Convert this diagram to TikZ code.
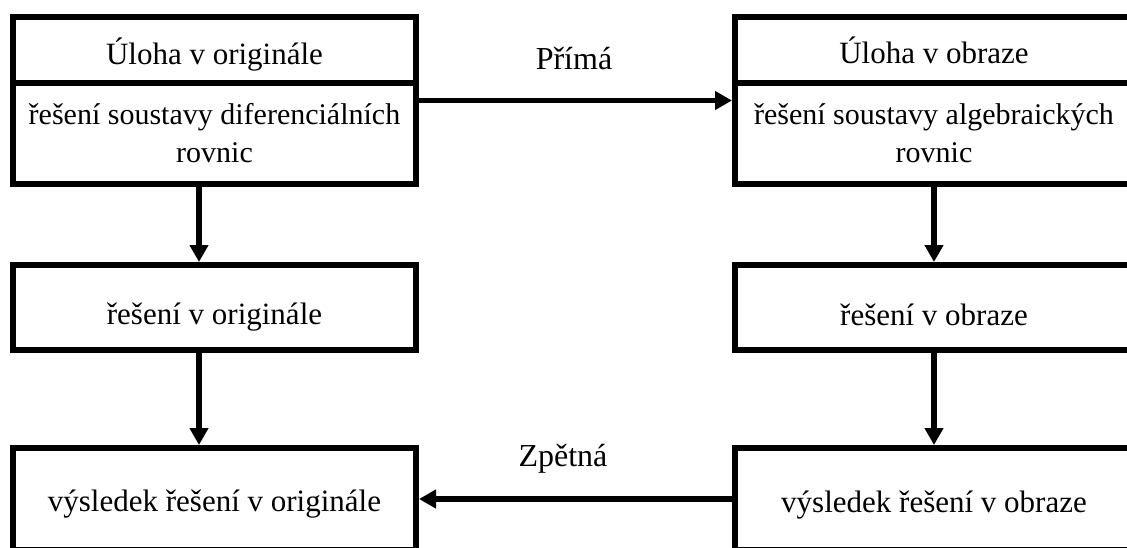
\documentclass[tikz,border=0pt]{standalone}
\usepackage{fontspec}
\setmainfont{Liberation Serif}
\usetikzlibrary{arrows.meta}
\begin{document}
\begin{tikzpicture}[x=1pt,y=-1pt,
  box/.style={draw, line width=6pt, inner sep=0pt, outer sep=3pt},
  txt/.style={font=\fontsize{31}{38}\selectfont, align=center, inner sep=0pt},
  small/.style={font=\fontsize{30}{38}\selectfont},
  lbl/.style={font=\fontsize{32}{38}\selectfont, inner sep=0pt},
  arr/.style={line width=5.5pt, -{Triangle[length=17pt,width=18pt]}}
]
\useasboundingbox (0,0) rectangle (1127,547);
\clip (0,0) rectangle (1127,547);

% boxes
\node[box, minimum width=403pt, minimum height=167pt] (lt) at (214.5,100.5) {};
\node[box, minimum width=398pt, minimum height=167pt] (rt) at (934,100.5) {};
\node[box, minimum width=403pt, minimum height=85pt] (lm) at (214.5,307.5) {};
\node[box, minimum width=398pt, minimum height=85pt] (rm) at (934,307.5) {};
\node[box, minimum width=403pt, minimum height=102pt] (lb) at (214.5,499) {};
\node[box, minimum width=398pt, minimum height=102pt] (rb) at (934,499) {};

% dividers
\coordinate (dv) at (0,83);
\draw[line width=6pt] (lt.west |- dv) -- (lt.east |- dv);
\draw[line width=6pt] (rt.west |- dv) -- (rt.east |- dv);

% texts
\node[txt, anchor=base] (lt1) at (214.5,64) {Úloha v originále};
\node[txt, small] (lt2) at (214.5,133) {řešení soustavy diferenciálních\\rovnic};
\node[txt, anchor=base] (rt1) at (934,63) {Úloha v obraze};
\node[txt, small] (rt2) at (934,133) {řešení soustavy algebraických\\rovnic};
\node[txt, anchor=base] (lm1) at (214.5,324) {řešení v originále};
\node[txt, anchor=base] (rm1) at (934,325) {řešení v obraze};
\node[txt, anchor=base] (lb1) at (214.5,511) {výsledek řešení v originále};
\node[txt, anchor=base] (rb1) at (934,512) {výsledek řešení v obraze};

% labels
\node[lbl, anchor=base] (prima) at (574,69) {Přímá};
\node[lbl, anchor=base] (zpetna) at (563,466) {Zpětná};

% arrows
\coordinate (cl) at (199,0);
\coordinate (cr) at (934,0);
\draw[arr] (lt.south -| cl) -- (lm.north -| cl);
\draw[arr] (lm.south -| cl) -- (lb.north -| cl);
\draw[arr] (rt.south -| cr) -- (rm.north -| cr);
\draw[arr] (rm.south -| cr) -- (rb.north -| cr);
\draw[arr] (lt.east) -- (rt.west);
\draw[arr] (rb.west) -- (lb.east);
\end{tikzpicture}
\end{document}
